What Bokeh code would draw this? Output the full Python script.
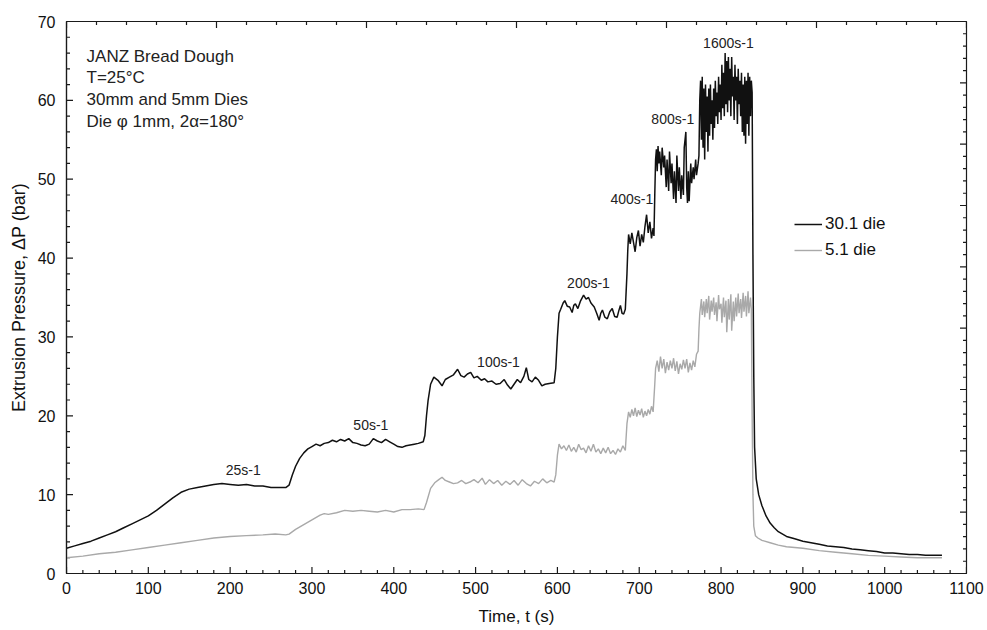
import math
from bokeh.plotting import figure
from bokeh.models import (LinearAxis, SingleIntervalTicker, Label,
                          Legend, LegendItem, Range1d)
from bokeh.embed import file_html
from bokeh.resources import INLINE

# ---------------- data ----------------
t_die30 = [0, 10, 20, 30, 40, 50, 60, 70, 80, 90, 100, 110, 120, 130, 140, 150, 160, 170, 180, 190,
           200, 210, 220, 230, 240, 250, 260, 268,
           272, 276, 280, 285, 290, 295, 300, 305, 310, 315, 320, 325, 330, 335, 340, 345, 350, 355,
           360, 365, 370, 375, 380, 385, 390, 395, 400, 405, 410, 415, 420, 425, 430, 436,
           438, 440, 442, 445, 449, 454, 459, 463, 468, 473, 478, 482, 486, 490, 494, 498, 502, 507,
           511, 515, 520, 525, 530, 535, 539, 543, 547, 551, 555, 559, 562, 565, 569, 573, 577, 581,
           585, 590, 596,
           598, 600, 602, 604, 607, 609, 612, 615, 618, 620, 622, 625, 628, 632, 635, 638, 641, 645,
           648, 651, 653, 655, 658, 661, 664, 667, 670, 673, 675, 677, 679, 681, 683,
           685, 686, 687, 689, 691, 693, 695, 697, 699, 701, 703, 705, 707, 709, 711, 713, 715, 717, 718,
           719, 720, 721, 722, 723, 724, 725, 727, 728, 730, 731, 733, 734, 736, 737, 739, 740, 742,
           743, 745, 746, 748, 749, 751, 752, 754, 755, 757, 758, 759, 760, 761, 763, 764, 766, 767,
           769, 770, 772, 773,
           774, 775, 776, 777, 778, 779, 780, 781, 782, 783, 784, 785, 786, 787, 788, 789, 790, 791,
           792, 793, 794, 795, 796, 797, 798, 799, 800, 801, 802, 803, 804, 805, 806, 807, 808, 809,
           810, 811, 812, 813, 814, 815, 816, 817, 818, 819, 820, 821, 822, 823, 824, 825, 826, 827,
           828, 829, 830, 831, 832, 833, 834, 835, 836, 837, 838,
           839, 840, 841, 843, 846, 850, 855, 860, 865, 870, 880, 890, 900, 910, 920, 930, 940, 950,
           960, 970, 980, 990, 1000, 1010, 1020, 1030, 1040, 1050, 1060, 1070]
p_die30 = [3.2, 3.5, 3.8, 4.1, 4.5, 4.9, 5.3, 5.8, 6.3, 6.8, 7.3, 8.0, 8.8, 9.6, 10.3, 10.7, 10.9, 11.1, 11.3, 11.4,
           11.3, 11.2, 11.3, 11.1, 11.1, 10.9, 10.9, 10.9,
           11.2, 12.5, 13.6, 14.6, 15.3, 15.8, 16.1, 16.4, 16.2, 16.5, 16.6, 16.9, 16.7, 17.0, 16.8, 17.1, 16.6, 16.5,
           16.3, 16.2, 16.4, 17.1, 16.8, 16.6, 17.0, 16.7, 16.4, 16.1, 16.0, 16.2, 16.3, 16.4, 16.5, 16.7,
           17.5, 20.0, 22.0, 24.0, 24.9, 24.5, 23.8, 24.6, 24.9, 25.2, 25.9, 25.1, 24.9, 25.3, 25.5, 24.8, 25.0, 24.5,
           24.7, 24.3, 24.4, 24.0, 24.1, 24.6, 23.9, 23.4, 24.0, 24.6, 24.2, 25.0, 26.1, 24.6, 24.3, 24.9, 24.5, 23.8,
           24.0, 24.1, 24.2,
           26.0, 30.0, 33.0, 33.5, 34.3, 34.6, 33.9, 33.8, 33.1, 34.0, 34.2, 33.6, 34.5, 35.3, 34.8, 35.0, 34.3, 33.8,
           33.0, 32.1, 33.0, 33.4, 32.5, 32.3, 33.2, 33.6, 32.6, 32.5, 33.3, 34.0, 33.0, 32.9, 33.5,
           38.0, 41.0, 43.0, 41.8, 43.2, 42.0, 40.8, 42.6, 43.5, 41.5, 43.0, 42.0, 44.0, 45.5, 43.2, 44.6, 42.5, 43.8, 42.8,
           48.0, 52.5, 53.8, 51.0, 54.2, 52.0, 53.5, 50.5, 54.0, 51.5, 53.0, 49.0, 52.5, 48.5, 53.5, 49.5, 52.0, 47.5,
           51.0, 47.0, 53.0, 48.5, 51.5, 47.5, 50.5, 48.0, 54.0, 56.0, 49.0, 47.0, 51.0, 47.2, 52.0, 49.5, 51.5, 50.0,
           52.5, 50.5, 52.0, 53.0,
           60.0, 62.5, 55.0, 63.0, 54.0, 61.5, 52.5, 62.0, 56.0, 60.5, 53.5, 61.5, 55.5, 62.0, 57.0, 60.0, 55.0, 61.5,
           56.5, 62.5, 58.0, 61.0, 57.0, 63.0, 58.5, 62.0, 57.5, 64.5, 59.0, 63.5, 58.0, 66.0, 59.5, 65.0, 58.5, 65.5,
           60.0, 64.0, 58.0, 65.5, 60.5, 63.0, 57.5, 64.5, 60.0, 63.0, 57.0, 64.0, 59.5, 62.5, 58.0, 63.5, 56.0, 62.0,
           55.5, 63.0, 54.5, 62.5, 57.0, 63.5, 55.5, 63.0, 58.0, 62.5, 61.0,
           40.0, 25.0, 16.0, 12.0, 10.0, 8.6, 7.3, 6.4, 5.8, 5.3, 4.7, 4.4, 4.1, 3.9, 3.7, 3.5, 3.4, 3.3,
           3.1, 3.0, 2.9, 2.8, 2.6, 2.6, 2.5, 2.4, 2.4, 2.3, 2.3, 2.3]

t_die5 = [0, 20, 40, 60, 80, 100, 120, 140, 160, 180, 200, 220, 240, 255, 268,
          272, 280, 290, 300, 310, 315, 320, 330, 340, 350, 360, 370, 380, 390, 400, 410, 420, 430, 437,
          440, 445, 450, 455, 459, 463, 468, 473, 478, 483, 488, 493, 498, 503, 508, 512, 517, 522, 527,
          532, 537, 542, 547, 552, 557, 562, 567, 572, 577, 582, 587, 592, 596,
          598, 600, 602, 605, 608, 611, 614, 617, 620, 623, 626, 629, 632, 635, 638, 641, 644, 647, 650,
          653, 656, 659, 662, 665, 668, 671, 674, 677, 680, 683,
          685, 687, 689, 691, 693, 695, 697, 699, 701, 703, 705, 707, 709, 711, 713, 715, 717,
          719, 720, 722, 724, 726, 728, 730, 732, 734, 736, 738, 740, 742, 744, 746, 748, 750, 752, 754,
          756, 758, 760, 762, 764, 766, 768, 770, 772,
          773, 774, 776, 777, 779, 780, 782, 783, 785, 786, 788, 789, 791, 792, 794, 795, 797, 798, 800,
          801, 803, 804, 806, 807, 809, 810, 812, 813, 815, 816, 818, 819, 821, 822, 824, 825, 827, 828,
          830, 831, 833, 834, 836, 837,
          838, 839, 840, 842, 845, 850, 860, 870, 880, 890, 900, 920, 940, 960, 980, 1000, 1020, 1040, 1070]
p_die5 = [2.0, 2.2, 2.5, 2.7, 3.0, 3.3, 3.6, 3.9, 4.2, 4.5, 4.7, 4.8, 4.9, 5.0, 4.9,
          5.0, 5.6, 6.2, 6.8, 7.4, 7.6, 7.5, 7.7, 8.0, 7.9, 8.0, 7.9, 7.8, 8.0, 7.8, 8.1, 8.1, 8.2, 8.1,
          9.0, 10.8, 11.5, 11.9, 12.2, 11.8, 11.6, 11.4, 11.5, 11.8, 11.4, 11.6, 11.9, 11.5, 12.1, 11.3, 11.9, 11.4, 11.8,
          11.2, 11.7, 11.3, 11.8, 11.2, 11.9, 11.4, 11.1, 11.7, 11.4, 12.0, 11.5, 11.8, 11.6,
          12.5, 15.0, 16.4, 15.8, 16.2, 15.6, 16.3, 15.5, 16.0, 15.4, 16.4, 15.7, 15.9, 15.3, 16.2, 15.5, 16.4, 15.4, 15.8,
          15.2, 15.9, 15.3, 16.0, 15.2, 15.6, 15.1, 15.8, 15.4, 16.2, 15.6,
          19.0, 20.5, 19.8, 20.8, 20.0, 21.0, 19.9, 20.7, 20.1, 20.9, 19.8, 20.6, 20.0, 20.8, 20.2, 21.2, 20.5,
          24.0, 26.0, 27.0, 25.6, 27.5, 26.0, 27.2, 25.4, 26.8, 25.8, 27.0, 26.0, 27.3, 25.7, 26.9, 25.3, 26.6, 25.9, 27.1,
          26.0, 27.2, 25.5, 26.7, 25.8, 27.0, 26.2, 27.8, 28.2,
          31.0, 33.0, 34.8, 32.8, 34.5, 32.5, 34.8, 33.0, 35.2, 32.2, 34.6, 33.2, 35.0, 32.8, 34.4, 32.0, 35.3, 33.5, 34.2,
          31.8, 35.0, 32.5, 34.6, 30.6, 34.8, 32.2, 35.4, 30.8, 34.5, 32.0, 35.0, 32.6, 35.5, 33.0, 34.8, 32.4, 35.6, 33.2,
          35.2, 32.6, 35.8, 33.0, 35.0, 33.5,
          20.0, 10.0, 6.0, 4.8, 4.5, 4.2, 3.9, 3.6, 3.4, 3.3, 3.2, 2.9, 2.7, 2.5, 2.3, 2.2, 2.1, 2.0, 2.0]

series_names = ["30.1 die", "5.1 die"]

rate_labels = ["25s-1", "50s-1", "100s-1", "200s-1", "400s-1", "800s-1", "1600s-1"]
rate_t = [216, 372, 528, 638, 691, 741, 809]
rate_p = [13.1, 18.8, 26.8, 36.9, 47.5, 57.6, 67.3]

info_lines = ["JANZ Bread Dough", "T=25°C", "30mm and 5mm Dies", "Die φ 1mm, 2α=180°"]
info_p = [65.6, 62.85, 60.1, 57.3]

# tick positions (frame ticks, drawn inward)
X_MIN, X_MAX, Y_MIN, Y_MAX = 0, 1100, 0, 70
bottom_major = list(range(0, 1101, 100))
bottom_minor = [v for v in range(0, 1101, 20) if v % 100]
left_major = list(range(0, 71, 10))
left_minor = [v for v in range(0, 71, 2) if v % 10]
top_major = [i * 1100 / 6 for i in range(7)]
top_minor = [i * 1100 / 30 for i in range(31) if i % 5]
right_major = [i * 70 / 9 for i in range(10)]
right_minor = [i * 70 / 45 for i in range(46) if i % 5]

# ---------------- figure ----------------
FONT = "Liberation Sans"
DARK = "#1a1a1a"

p = figure(width=987, height=630, output_backend="svg", toolbar_location=None,
           x_range=Range1d(X_MIN, X_MAX), y_range=Range1d(Y_MIN, Y_MAX),
           x_axis_type=None, y_axis_type=None,
           min_border_left=66, min_border_right=21, min_border_top=21, min_border_bottom=57)
p.background_fill_color = "white"
p.border_fill_color = "white"
p.grid.visible = False
p.outline_line_color = DARK
p.outline_line_width = 1.2

def style_axis(ax):
    ax.axis_line_color = DARK
    ax.axis_line_width = 1.2
    ax.major_tick_line_color = None
    ax.minor_tick_line_color = None
    ax.major_tick_in = 0
    ax.major_tick_out = 0
    ax.minor_tick_in = 0
    ax.minor_tick_out = 0
    ax.major_label_text_font = FONT
    ax.axis_label_text_font = FONT
    ax.axis_label_text_font_style = "normal"
    ax.axis_label_text_color = "#111111"
    ax.major_label_text_color = "#111111"
    ax.major_label_text_font_size = "16px"
    ax.axis_label_text_font_size = "17px"

xb = LinearAxis(ticker=SingleIntervalTicker(interval=100, num_minor_ticks=5),
                axis_label="Time, t (s)")
style_axis(xb)
xb.major_label_standoff = 8
xb.axis_label_standoff = 10
p.add_layout(xb, "below")

yl = LinearAxis(ticker=SingleIntervalTicker(interval=10, num_minor_ticks=5),
                axis_label="Extrusion Pressure, ΔP (bar)")
style_axis(yl)
yl.axis_label_text_font_size = "18px"
yl.major_label_standoff = 11
yl.axis_label_standoff = 6
p.add_layout(yl, "left")

# inward ticks drawn as clipped dash markers centred on the frame edges
TICK_KW = dict(marker="dash", line_color=DARK, line_width=1.2)
def ticks_h(vals, yv, size):   # vertical ticks on bottom/top edges
    p.scatter(vals, [yv] * len(vals), size=size, angle=math.pi / 2, **TICK_KW)
def ticks_v(vals, xv, size):   # horizontal ticks on left/right edges
    p.scatter([xv] * len(vals), vals, size=size, angle=0, **TICK_KW)

ticks_h(bottom_major, Y_MIN, 13)
ticks_h(bottom_minor, Y_MIN, 7)
ticks_h(top_major, Y_MAX, 13)
ticks_h(top_minor, Y_MAX, 7)
ticks_v(left_major, X_MIN, 13)
ticks_v(left_minor, X_MIN, 7)
ticks_v(right_major, X_MAX, 13)
ticks_v(right_minor, X_MAX, 7)

r5 = p.line(t_die5, p_die5, line_color="#a9a9a9", line_width=1.4)
r30 = p.line(t_die30, p_die30, line_color="#111111", line_width=1.5)

legend = Legend(items=[LegendItem(label=series_names[0], renderers=[r30]),
                       LegendItem(label=series_names[1], renderers=[r5])],
                location=(728, 313), orientation="vertical",
                background_fill_alpha=0, border_line_alpha=0,
                label_text_font=FONT, label_text_font_size="17px", label_text_color="#111111",
                glyph_width=28, glyph_height=20, label_height=20, spacing=6,
                padding=0, margin=0, label_standoff=3)
p.add_layout(legend, "center")

for txt, tt, pp in zip(rate_labels, rate_t, rate_p):
    p.add_layout(Label(x=tt, y=pp, text=txt, text_align="center", text_baseline="middle",
                       text_font=FONT, text_font_size="14px", text_color="#222222"))

for txt, pp in zip(info_lines, info_p):
    p.add_layout(Label(x=24.5, y=pp, text=txt, text_align="left", text_baseline="middle",
                       text_font=FONT, text_font_size="17px", text_color="#222222"))

open("out.html", "w").write(file_html(p, INLINE))
